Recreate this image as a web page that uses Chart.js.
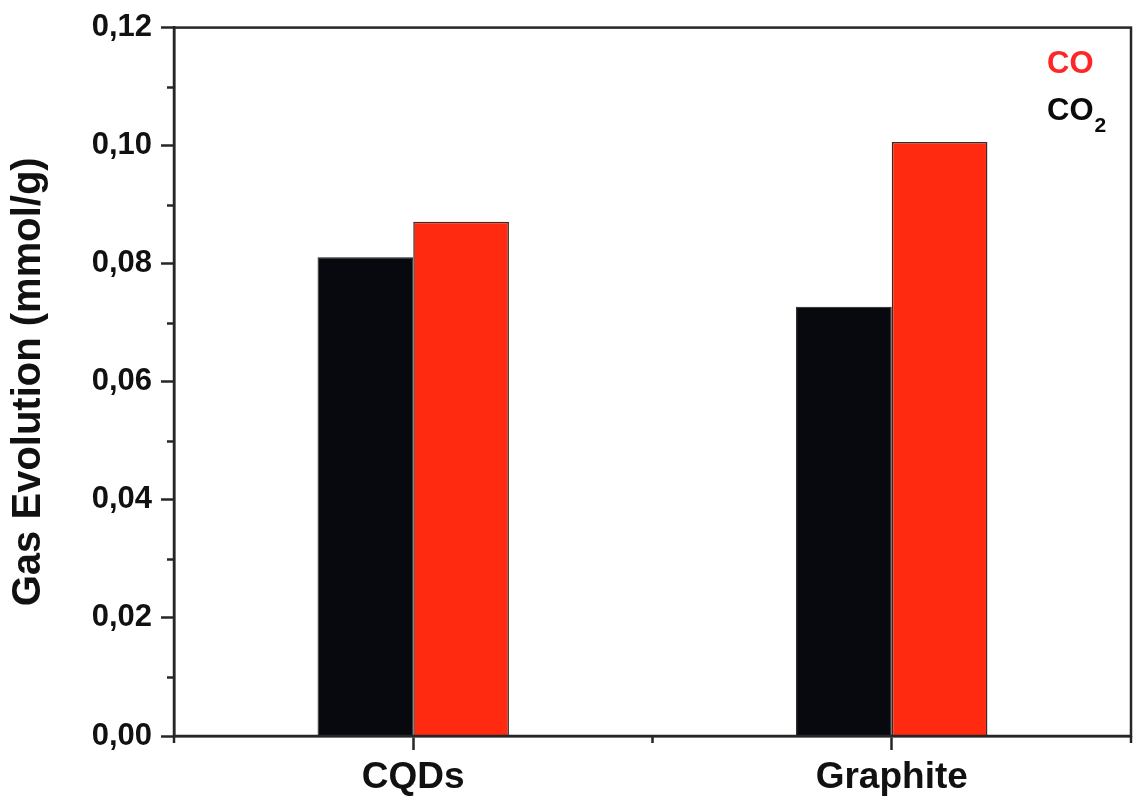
<!DOCTYPE html>
<html>
<head>
<meta charset="utf-8">
<script src="https://cdn.jsdelivr.net/npm/chart.js@4.4.1/dist/chart.umd.min.js"></script>
<style>
  html, body { margin: 0; padding: 0; background: #ffffff; }
  #wrap { width: 1138px; height: 805px; }
</style>
</head>
<body>
<div id="wrap"><canvas id="c" width="1138" height="805"></canvas></div>
<script>
// Samples on the category axis
const categories = ['CQDs', 'Graphite'];
// Gas evolution per series (mmol/g)
const co2Values = [0.0811, 0.0727];
const coValues = [0.0871, 0.1006];
// Y tick values and their labels (decimal comma)
const yTickValues = [0, 0.02, 0.04, 0.06, 0.08, 0.10, 0.12];
const yTickLabels = ['0,00', '0,02', '0,04', '0,06', '0,08', '0,10', '0,12'];
const yMinorValues = [0.01, 0.03, 0.05, 0.07, 0.09, 0.11];

const FONT = '"Liberation Sans", Arial, Helvetica, sans-serif';
const AXIS_COLOR = '#262626';
const AXIS_WIDTH = 2.5;

// Frame, minor ticks and the text legend (CO, CO2 with subscript)
const framePlugin = {
  id: 'frame',
  afterDraw(chart) {
    const ctx = chart.ctx;
    const a = chart.chartArea;
    const x = chart.scales.x;
    const y = chart.scales.y;
    ctx.save();
    ctx.strokeStyle = AXIS_COLOR;
    ctx.lineWidth = AXIS_WIDTH;
    ctx.lineCap = 'butt';
    // box
    ctx.strokeRect(a.left, a.top, a.right - a.left, a.bottom - a.top);
    // y minor ticks, outward
    yMinorValues.forEach(v => {
      const py = Math.round(y.getPixelForValue(v)) + 0.5;
      ctx.beginPath();
      ctx.moveTo(a.left - 7, py);
      ctx.lineTo(a.left, py);
      ctx.stroke();
    });
    // x minor ticks at the category boundaries, outward
    const n = categories.length;
    for (let i = 0; i <= n; i++) {
      const px = x.getPixelForValue(i - 0.5);
      ctx.beginPath();
      ctx.moveTo(px, a.bottom);
      ctx.lineTo(px, a.bottom + 7);
      ctx.stroke();
    }
    // legend text, top right inside the frame
    const ds = chart.data.datasets.slice().reverse();
    const lx = a.right - 84;
    let ly = 73;
    ds.forEach(d => {
      ctx.fillStyle = d.legendColor;
      ctx.textBaseline = 'alphabetic';
      ctx.textAlign = 'left';
      const m = d.label.match(/^(\D+)(\d*)$/);
      ctx.font = 'bold 31px ' + FONT;
      ctx.fillText(m[1], lx, ly);
      if (m[2]) {
        const w = ctx.measureText(m[1]).width;
        ctx.font = 'bold 21px ' + FONT;
        ctx.fillText(m[2], lx + w + 1, ly + 12);
      }
      ly += 47;
    });
    ctx.restore();
  }
};

new Chart(document.getElementById('c'), {
  type: 'bar',
  data: {
    labels: categories,
    datasets: [
      {
        label: 'CO2',
        data: co2Values,
        backgroundColor: '#07090e',
        borderColor: '#1a1a1a',
        borderWidth: 1,
        legendColor: '#0b0b0b'
      },
      {
        label: 'CO',
        data: coValues,
        backgroundColor: '#ff2a10',
        borderColor: '#3a2a20',
        borderWidth: 1.5,
        legendColor: '#ff2626'
      }
    ]
  },
  options: {
    responsive: false,
    animation: false,
    devicePixelRatio: 1,
    layout: { padding: { top: 27, right: 7, left: 0, bottom: 0 } },
    datasets: {
      bar: { categoryPercentage: 0.4, barPercentage: 1.0 }
    },
    plugins: {
      legend: { display: false },
      tooltip: { enabled: false }
    },
    scales: {
      x: {
        offset: true,
        grid: {
          offset: false,
          drawOnChartArea: false,
          drawTicks: true,
          tickLength: 14,
          tickWidth: AXIS_WIDTH,
          tickColor: AXIS_COLOR
        },
        border: { display: true, color: AXIS_COLOR, width: AXIS_WIDTH },
        ticks: {
          color: '#111111',
          font: { family: FONT, size: 37, weight: 'bold' },
          padding: 6,
          maxRotation: 0
        },
        afterFit(scale) { scale.height = 69; }
      },
      y: {
        min: 0,
        max: 0.12,
        afterBuildTicks(scale) {
          scale.ticks = yTickValues.map(v => ({ value: v }));
        },
        grid: {
          drawOnChartArea: false,
          drawTicks: true,
          tickLength: 13,
          tickWidth: AXIS_WIDTH,
          tickColor: AXIS_COLOR
        },
        border: { display: true, color: AXIS_COLOR, width: AXIS_WIDTH },
        ticks: {
          color: '#111111',
          font: { family: FONT, size: 31, weight: 'bold' },
          padding: 9,
          callback(value) {
            const i = yTickValues.findIndex(t => Math.abs(t - value) < 1e-9);
            return i >= 0 ? yTickLabels[i] : '';
          }
        },
        title: {
          display: true,
          text: 'Gas Evolution (mmol/g)',
          color: '#111111',
          font: { family: FONT, size: 40, weight: 'bold' },
          padding: { top: 5, bottom: 0 }
        },
        afterFit(scale) { scale.width = 174; }
      }
    }
  },
  plugins: [framePlugin]
});
</script>
</body>
</html>
